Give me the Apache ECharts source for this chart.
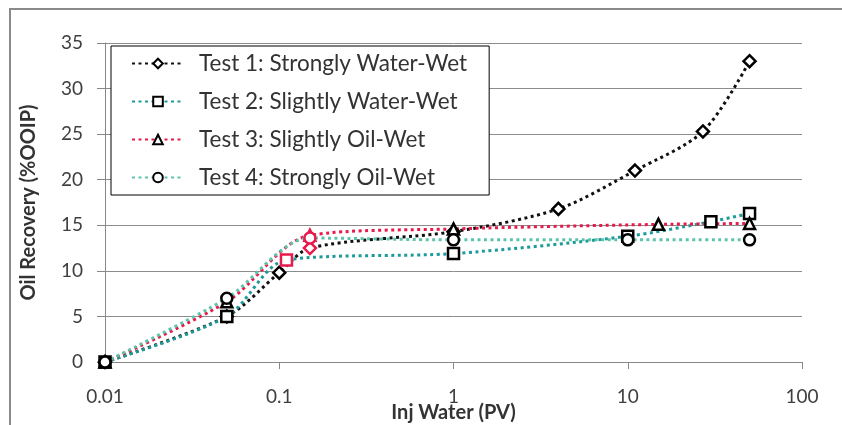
<!DOCTYPE html>
<html>
<head>
<meta charset="utf-8">
<script src="https://cdn.jsdelivr.net/npm/echarts@6/dist/echarts.min.js"></script>
<style>
	html, body { margin: 0; padding: 0; background: #fff; }
	#chart { width: 842px; height: 425px; }
</style>
</head>
<body>
<div id="chart"></div>
<script>
// values: [injected water PV, oil recovery %OOIP]
var test1 = [ [0.01, 0], [0.05, 5], [0.1, 9.8], [0.15, 12.5], [1, 14.3], [4, 16.8], [11, 21], [27, 25.3], [50, 33] ];
var test2 = [ [0.01, 0], [0.05, 5], [0.11, 11.2], [1, 11.9], [10, 13.8], [30, 15.4], [50, 16.3] ];
var test3 = [ [0.01, 0], [0.05, 6.6], [0.15, 13.9], [1, 14.6], [15, 15.1], [50, 15.2] ];
var test4 = [ [0.01, 0], [0.05, 7], [0.15, 13.6], [1, 13.4], [10, 13.4], [50, 13.4] ];
var names = [ 'Test 1: Strongly Water-Wet', 'Test 2: Slightly Water-Wet', 'Test 3: Slightly Oil-Wet', 'Test 4: Strongly Oil-Wet' ];
// points whose marker is drawn red in the original (series -> indices)
var redPoints = [ [3], [2], [2], [2] ];
var xTicks = [ 0.01, 0.1, 1, 10, 100 ];

var FONT = 'Lato';
var lineColors = [ '#111111', '#1d9a9a', '#e8194b', '#5cc4ab' ];
var symbols = [ 'diamond', 'rect', 'triangle', 'circle' ];

function buildSeries(i, values) {
	var data = [];
	for (var k = 0; k < values.length; k++) {
		var item = { value: values[k] };
		if (redPoints[i].indexOf(k) >= 0) {
			item.itemStyle = { borderColor: '#e8194b' };
		}
		data.push(item);
	}
	return {
		name : names[i],
		type : 'line',
		smooth : 0.3,
		data : data,
		symbol : symbols[i],
		symbolSize : i == 0 ? 12 : 11,
		showAllSymbol : true,
		itemStyle : {
			color : '#fff',
			borderColor : '#000',
			borderWidth : 2.5
		},
		lineStyle : {
			color : lineColors[i],
			width : 3,
			type : [ 3, 3.5 ]
		},
		z : 3
	};
}

var myChart = echarts.init(document.getElementById('chart'));
var option = {
	animation : false,
	textStyle : { fontFamily : FONT },
	graphic : [ {
		type : 'rect',
		shape : { x : 10, y : 9, width : 840, height : 440 },
		style : { fill : 'none', stroke : '#8a8a8a', lineWidth : 2 },
		silent : true
	} ],
	grid : {
		left : 105,
		right : 40,
		top : 43,
		bottom : 63,
		outerBoundsMode : 'none'
	},
	legend : {
		orient : 'vertical',
		left : 111,
		top : 46,
		padding : [ 6, 22, 6, 20 ],
		itemGap : 15,
		itemWidth : 52,
		itemHeight : 12,
		backgroundColor : '#fff',
		borderColor : '#000',
		borderWidth : 1,
		textStyle : { fontFamily : FONT, fontSize : 22.5, color : '#333', padding : [ 0, 0, 0, 10 ] },
		data : names,
		z : 10
	},
	xAxis : {
		type : 'log',
		logBase : 10,
		min : xTicks[0],
		max : xTicks[xTicks.length - 1],
		name : 'Inj Water (PV)',
		nameLocation : 'middle',
		nameGap : 41,
		nameMoveOverlap : false,
		nameTextStyle : { fontFamily : FONT, fontSize : 20, fontWeight : 'bold', color : '#333' },
		axisLine : { lineStyle : { color : '#888', width : 1 } },
		axisTick : { show : true, length : 7, lineStyle : { color : '#888' } },
		minorTick : { show : false },
		splitLine : { show : false },
		axisLabel : {
			fontFamily : FONT,
			fontSize : 19,
			color : '#404040',
			margin : 25,
			formatter : function(v) { return String(+v.toPrecision(6)); }
		}
	},
	yAxis : {
		type : 'value',
		min : 0,
		max : 35,
		interval : 5,
		name : 'Oil Recovery (%OOIP)',
		nameLocation : 'middle',
		nameGap : 66,
		nameMoveOverlap : false,
		nameTextStyle : { fontFamily : FONT, fontSize : 20, fontWeight : 'bold', color : '#333' },
		axisLine : { show : true, lineStyle : { color : '#888', width : 1 } },
		axisTick : { show : true, length : 8, lineStyle : { color : '#888' } },
		splitLine : { lineStyle : { color : '#8c8c8c', width : 1 } },
		axisLabel : {
			fontFamily : FONT,
			fontSize : 19,
			color : '#404040',
			margin : 22
		}
	},
	series : [ buildSeries(0, test1), buildSeries(1, test2), buildSeries(2, test3), buildSeries(3, test4) ]
};
myChart.setOption(option);
</script>
</body>
</html>
